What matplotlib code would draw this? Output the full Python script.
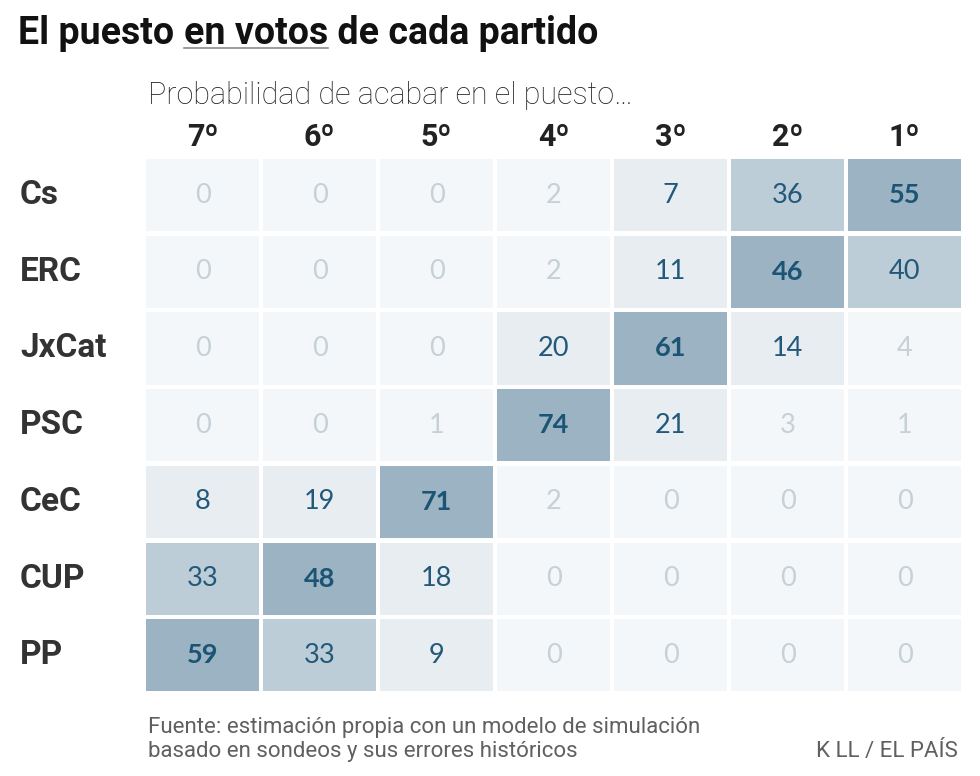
import matplotlib.pyplot as plt
from matplotlib.patches import Rectangle
from matplotlib.lines import Line2D

parties = ['Cs', 'ERC', 'JxCat', 'PSC', 'CeC', 'CUP', 'PP']
positions = ['7º', '6º', '5º', '4º', '3º', '2º', '1º']

# probability (%) of finishing in each position, columns 7º -> 1º
cs = [0, 0, 0, 2, 7, 36, 55]
erc = [0, 0, 0, 2, 11, 46, 40]
jxcat = [0, 0, 0, 20, 61, 14, 4]
psc = [0, 0, 1, 74, 21, 3, 1]
cec = [8, 19, 71, 2, 0, 0, 0]
cup = [33, 48, 18, 0, 0, 0, 0]
pp = [59, 33, 9, 0, 0, 0, 0]
values = [cs, erc, jxcat, psc, cec, cup, pp]

HEAD = ['Roboto', 'DejaVu Sans']
NUM = ['Lato', 'DejaVu Sans']


def cell_style(v):
    """Background, text colour and weight for one cell."""
    if v < 5:
        return '#f4f7f9', '#c6d0d7', 'normal'
    if v < 30:
        return '#e7edf1', '#22597a', 'normal'
    if v < 45:
        return '#bccdd7', '#22597a', 'normal'
    return '#9bb3c2', '#1b5474', 'bold'


fig = plt.figure(figsize=(9.8, 7.76), dpi=100)
ax = fig.add_axes([146 / 980, 1 - 696 / 776, 819 / 980, 537 / 776])
ax.set_xlim(0, 7)
ax.set_ylim(7, 0)
ax.axis('off')

cw, ch = 0.966, 0.94
for i, row in enumerate(values):
    for j, v in enumerate(row):
        bg, fg, wt = cell_style(v)
        ax.add_patch(Rectangle((j, i), cw, ch, facecolor=bg, edgecolor='none'))
        ax.text(j + cw / 2, i + ch / 2, str(v), ha='center', va='center',
                fontsize=19.5, color=fg, family=NUM, weight=wt)

for j, p in enumerate(positions):
    ax.text(j + cw / 2, -0.29, p, ha='center', va='center', fontsize=22,
            weight='bold', color='#222222', family=HEAD)

for i, p in enumerate(parties):
    fig.text(20 / 980, 1 - (159 + i * 76.7 + 36) / 776, p, ha='left', va='center',
             fontsize=24, weight='bold', color='#333333', family=HEAD)

# title with underlined middle part
ty = 1 - 33 / 776
renderer = fig.canvas.get_renderer()
x = 18 / 980
for k, part in enumerate(['El puesto ', 'en votos', ' de cada partido']):
    t = fig.text(x, ty, part, ha='left', va='center', fontsize=27,
                 weight='bold', color='#111111', family=HEAD)
    bb = t.get_window_extent(renderer)
    if k == 1:
        y_line = 1 - 48 / 776
        fig.add_artist(Line2D([bb.x0 / 980, bb.x1 / 980], [y_line, y_line],
                              color='#8a8a8a', lw=1.2, transform=fig.transFigure))
    x = bb.x1 / 980

fig.text(148 / 980, 1 - 96 / 776, 'Probabilidad de acabar en el puesto…', ha='left',
         va='center', fontsize=22, color='#222222', family=HEAD, weight='light')

fig.text(148 / 980, 1 - 727 / 776, 'Fuente: estimación propia con un modelo de simulación',
         ha='left', va='center', fontsize=16, color='#606060', family=HEAD)
fig.text(148 / 980, 1 - 752 / 776, 'basado en sondeos y sus errores históricos',
         ha='left', va='center', fontsize=16, color='#606060', family=HEAD)
fig.text(958 / 980, 1 - 752 / 776, 'K LL / EL PAÍS', ha='right', va='center',
         fontsize=16, color='#606060', family=HEAD)

fig.savefig('out.png', dpi=100, facecolor='white')
